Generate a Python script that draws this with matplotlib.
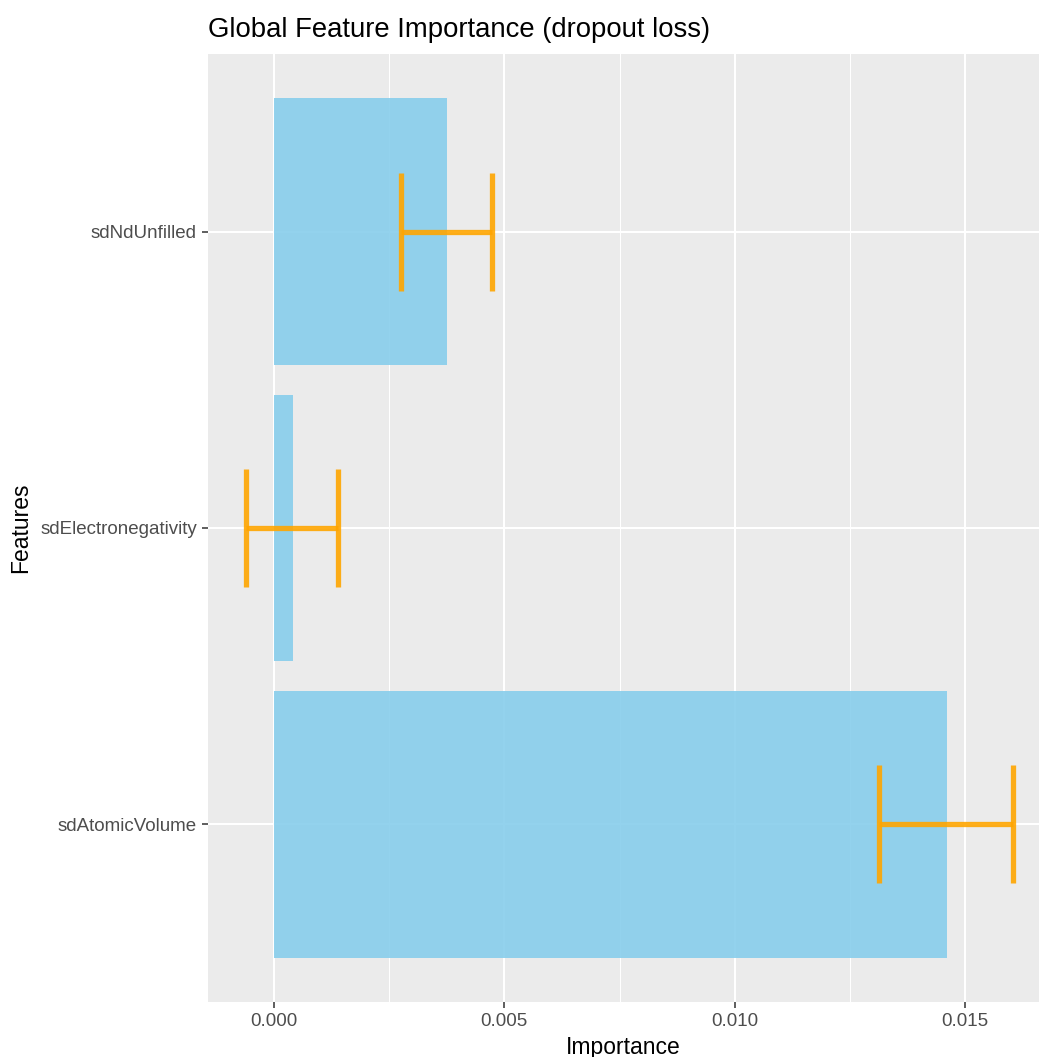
import matplotlib
matplotlib.use("Agg")
import matplotlib.pyplot as plt
import numpy as np

plt.rcParams['font.family'] = ['Liberation Sans', 'DejaVu Sans']

# permutation importance, bottom to top
features = ["sdAtomicVolume", "sdElectronegativity", "sdNdUnfilled"]
importance = [0.01461, 0.000412, 0.003755]
lower = [0.01314, -0.000608, 0.00275]
upper = [0.01604, 0.00139, 0.00474]

xticks = [0.000, 0.005, 0.010, 0.015]
xminor = [0.0025, 0.0075, 0.0125]

fig = plt.figure(figsize=(10.39, 10.57), dpi=100)
ax = fig.add_axes([208 / 1039, 55 / 1057, 831 / 1039, 948 / 1057])
ax.set_facecolor("#EBEBEB")

y = np.arange(1, len(features) + 1)
imp = np.array(importance)
lo = np.array(lower)
hi = np.array(upper)

ax.barh(y, imp, height=0.9, color="#87CEEB", alpha=0.9, zorder=2)
ax.errorbar(imp, y, xerr=[imp - lo, hi - imp], fmt="none",
            ecolor="#FFA500", alpha=0.9, elinewidth=3.8,
            capsize=42.5, capthick=3.8, zorder=3)

ax.set_xlim(-0.001433, 0.016606)
ax.set_ylim(0.4, 3.6)

ax.set_xticks(xticks)
ax.set_xticklabels([f"{v:.3f}" for v in xticks])
ax.set_xticks(xminor, minor=True)
ax.set_yticks(y)
ax.set_yticklabels(features)

ax.grid(which="major", color="white", linewidth=1.5, zorder=0)
ax.grid(which="minor", axis="x", color="white", linewidth=0.75, zorder=0)
ax.set_axisbelow(True)
for s in ax.spines.values():
    s.set_visible(False)

ax.tick_params(axis="both", which="major", length=4, width=1.1,
               color="#333333", labelcolor="#4D4D4D", labelsize=13.5, pad=4)
ax.tick_params(axis="both", which="minor", length=0)

ax.set_xlabel("Importance", fontsize=16.5, color="black", labelpad=4)
ax.set_ylabel("Features", fontsize=16.5, color="black", labelpad=6)
ax.set_title("Global Feature Importance (dropout loss)", loc="left",
             fontsize=19.8, color="black", pad=12)

fig.savefig("out.png", dpi=100)
